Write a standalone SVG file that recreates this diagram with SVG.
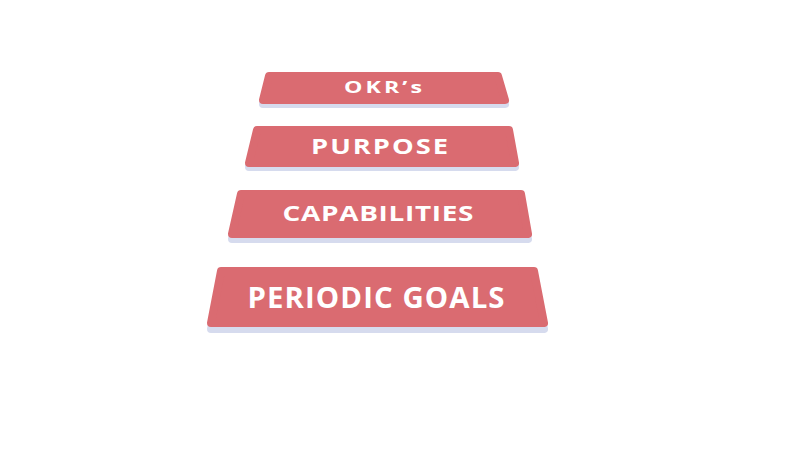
<svg xmlns="http://www.w3.org/2000/svg" width="800" height="450" viewBox="0 0 800 450">
  <style>
    .bar { fill: #da6b71; stroke: #da6b71; stroke-width: 8; stroke-linejoin: round; }
    .slab { fill: #dfe3f5; stroke: #d6dbee; stroke-width: 8; stroke-linejoin: round; }
    .lbl { fill: #ffffff; font-family: "Open Sans", "Liberation Sans", sans-serif; font-weight: 700; text-anchor: middle; }
  </style>
  <rect width="800" height="450" fill="#ffffff"/>
  <g id="node-okrs">
    <polygon class="slab" points="269,80 498,80 505,104 263,104"/>
    <polygon class="bar" points="269,76 498,76 505,100 263,100"/>
    <text class="lbl" transform="translate(383,93.3) scale(1.45,1)" x="0" y="0" font-size="16" textLength="53.8" lengthAdjust="spacing">OKR’s</text>
  </g>
  <g id="node-purpose">
    <polygon class="slab" points="257,134 509,134 515,167 249,167"/>
    <polygon class="bar" points="257,130 509,130 515,163 249,163"/>
    <text class="lbl" transform="translate(379.5,154) scale(1.3,1)" x="0" y="0" font-size="21" textLength="105.4" lengthAdjust="spacing">PURPOSE</text>
  </g>
  <g id="node-capabilities">
    <polygon class="slab" points="241,199 521,199 528,239 232,239"/>
    <polygon class="bar" points="241,194 521,194 528,234 232,234"/>
    <text class="lbl" transform="translate(378,221) scale(1.3,1)" x="0" y="0" font-size="21.5" textLength="146.9" lengthAdjust="spacing">CAPABILITIES</text>
  </g>
  <g id="node-periodic-goals">
    <polygon class="slab" points="221,277 534,277 544,329 211,329"/>
    <polygon class="bar" points="221,271 534,271 544,323 211,323"/>
    <text class="lbl" transform="translate(376,308) scale(1.05,1)" x="0" y="0" font-size="28" textLength="244.8" lengthAdjust="spacing">PERIODIC GOALS</text>
  </g>
  <g id="connectors"></g>
</svg>
